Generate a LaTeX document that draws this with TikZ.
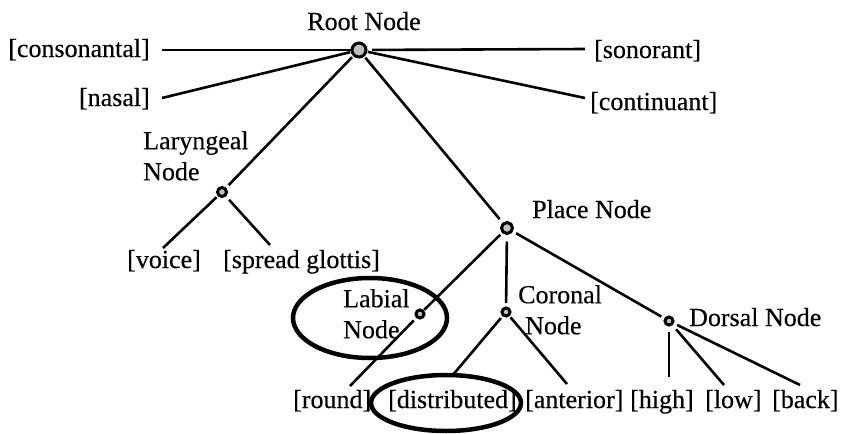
\documentclass[tikz,border=0pt]{standalone}
\usepackage{fontspec}
\setmainfont{Liberation Serif}
\newfontfamily\lblfont[FakeBold=0.35]{Liberation Serif}
\usetikzlibrary{shapes.geometric}
\begin{document}
\begin{tikzpicture}[x=1pt,y=-1pt,
  lbl/.style={inner sep=0pt, font=\lblfont\fontsize{26}{31}\selectfont},
  ml/.style={lbl, align=left, anchor=north west},
  dot/.style={circle, draw, line width=3pt, fill=gray!50, inner sep=0pt, outer sep=0pt},
  edge/.style={line width=2.6pt},
  ring/.style={ellipse, draw, line width=4.5pt, inner sep=0pt}]
\useasboundingbox (0,0) rectangle (844,434);

% labels
\node[lbl, anchor=base] (rootlbl) at (364,30) {Root Node};
\node[lbl, anchor=base east] (cons) at (150,57) {[consonantal]};
\node[lbl, anchor=base west] (son) at (594,58) {[sonorant]};
\node[lbl, anchor=base east] (nasal) at (150,106) {[nasal]};
\node[lbl, anchor=base west] (cont) at (590,110) {[continuant]};
\node[ml] (larlbl) at (143,131) {Laryngeal\\Node};
\node[lbl, anchor=base west] (voice) at (127,268) {[voice]};
\node[lbl, anchor=base west] (spread) at (223,268) {[spread glottis]};
\node[lbl, anchor=base west] (placelbl) at (532,218) {Place Node};
\node[ml] (labiallbl) at (343,289) {Labial\\Node};
\node[ml] (corlbl) at (518,285) {Coronal\\\hspace*{7pt}Node};
\node[lbl, anchor=base west] (dorlbl) at (689,326) {Dorsal Node};
\node[lbl, anchor=base west] (round) at (293,408) {[round]};
\node[lbl, anchor=base west] (distr) at (388,408) {[distributed]};
\node[lbl, anchor=base west] (ant) at (525,408) {[anterior]};
\node[lbl, anchor=base west] (high) at (630,408) {[high]};
\node[lbl, anchor=base west] (low) at (705,408) {[low]};
\node[lbl, anchor=base west] (back) at (772,408) {[back]};

% dots
\node[dot, minimum size=14pt] (root) at (359,50) {};
\node[dot, minimum size=9pt] (lar) at (222,192) {};
\node[dot, minimum size=11pt] (place) at (507,228) {};
\node[dot, minimum size=8pt] (labial) at (420,314) {};
\node[dot, minimum size=8pt] (coronal) at (506,312) {};
\node[dot, minimum size=8pt] (dorsal) at (669,321) {};

% connector ends near labels
\coordinate (eCons) at (162,50);
\coordinate (eSon) at (585,49);
\coordinate (eNasal) at (162,98);
\coordinate (eCont) at (585,98);
\coordinate (eVoice) at (163,248);
\coordinate (eSpread) at (270,245);
\coordinate (eRound) at (350,386);
\coordinate (eDistr) at (452,376);
\coordinate (eAnt) at (567,384);
\coordinate (eHigh) at (669,377);
\coordinate (eLow) at (724,385);
\coordinate (eBack) at (800,385);

% connectors
\draw[edge] (root) -- (eCons);
\draw[edge, shorten <=6pt] (root) -- (eSon);
\draw[edge, shorten <=2pt] (root) -- (eNasal);
\draw[edge, shorten <=2pt] (root) -- (eCont);
\draw[edge, shorten <=3pt, shorten >=5pt] (root) -- (lar);
\draw[edge, shorten <=3pt, shorten >=6pt] (root) -- (place);
\draw[edge, shorten <=3pt] (lar) -- (eVoice);
\draw[edge, shorten <=6pt] (lar) -- (eSpread);
\draw[edge, shorten <=4pt, shorten >=2pt] (place) -- (labial);
\draw[edge, shorten <=5pt] (labial) -- (eRound);
\draw[edge, shorten <=8pt, shorten >=5pt] (place) -- (coronal);
\draw[edge, shorten <=5pt, shorten >=5pt] (place) -- (dorsal);
\draw[edge, shorten <=4pt] (coronal) -- (eDistr);
\draw[edge, shorten <=3pt] (coronal) -- (eAnt);
\draw[edge, shorten <=7pt] (dorsal) -- (eHigh);
\draw[edge, shorten <=7pt] (dorsal) -- (eLow);
\draw[edge, shorten <=5pt] (dorsal) -- (eBack);

% circled groups
\node[ring, minimum width=154pt, minimum height=80pt] (labialring) at (370,318) {};
\node[ring, minimum width=150pt, minimum height=56pt] (distrring) at (446,403) {};
\end{tikzpicture}
\end{document}
